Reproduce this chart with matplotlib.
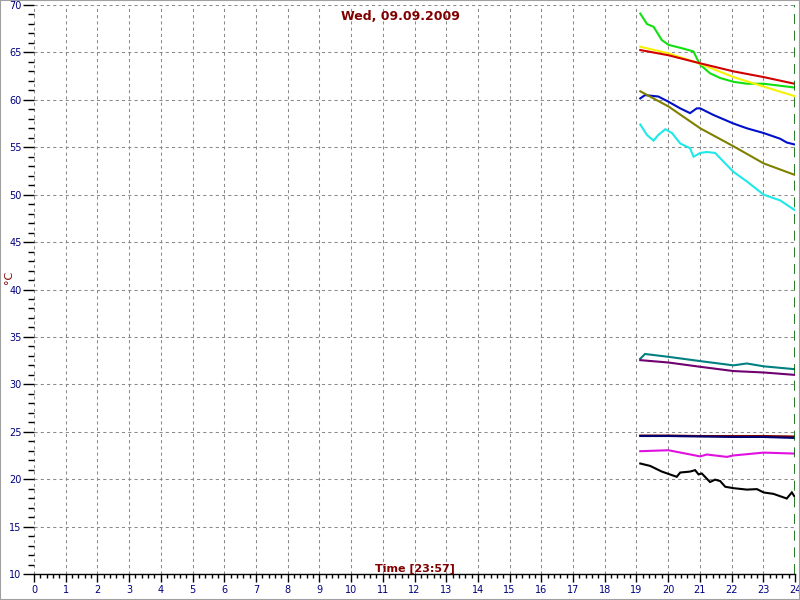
import matplotlib
matplotlib.use("Agg")
import matplotlib.pyplot as plt
from matplotlib.patches import Rectangle
from matplotlib.ticker import MultipleLocator

# hours of day and temperatures (°C)
green_t = [19.12, 19.33, 19.54, 19.80, 20.01, 20.48, 20.80, 20.90, 21.01, 21.32, 21.64, 22.06, 22.48, 23.01, 23.98]
green_v = [69.1, 68.0, 67.7, 66.3, 65.8, 65.4, 65.1, 64.4, 63.7, 62.8, 62.3, 61.9, 61.7, 61.7, 61.3]

yellow_t = [19.12, 20.01, 21.01, 22.06, 23.01, 23.98]
yellow_v = [65.6, 64.9, 63.8, 62.4, 61.4, 60.4]

red_t = [19.12, 20.01, 21.01, 22.06, 23.01, 23.98]
red_v = [65.25, 64.7, 63.85, 63.0, 62.4, 61.7]

blue_t = [19.12, 19.27, 19.69, 20.01, 20.38, 20.69, 20.90, 21.01, 21.43, 22.06, 22.48, 23.01, 23.53, 23.74, 23.98]
blue_v = [60.15, 60.5, 60.35, 59.8, 59.1, 58.6, 59.1, 59.1, 58.4, 57.5, 57.0, 56.5, 55.9, 55.5, 55.3]

olive_t = [19.12, 20.01, 21.01, 22.06, 23.01, 23.98]
olive_v = [60.9, 59.3, 57.0, 55.1, 53.3, 52.1]

cyan_t = [19.12, 19.33, 19.54, 19.69, 19.91, 20.12, 20.38, 20.69, 20.80, 21.01, 21.22, 21.48, 21.74, 22.06, 22.48, 23.01, 23.53, 23.98]
cyan_v = [57.4, 56.3, 55.7, 56.3, 56.9, 56.5, 55.4, 54.9, 54.0, 54.4, 54.5, 54.4, 53.5, 52.4, 51.4, 50.0, 49.4, 48.4]

teal_t = [19.12, 19.27, 20.01, 21.01, 22.06, 22.48, 23.01, 23.98]
teal_v = [32.7, 33.2, 32.9, 32.45, 32.0, 32.2, 31.9, 31.6]

purple_t = [19.12, 20.01, 21.01, 22.06, 23.01, 23.98]
purple_v = [32.55, 32.3, 31.85, 31.4, 31.25, 31.0]

maroon_t = [19.12, 20.01, 21.01, 22.06, 23.01, 23.98]
maroon_v = [24.6, 24.6, 24.55, 24.55, 24.55, 24.5]

navy_t = [19.12, 20.01, 21.01, 22.06, 23.01, 23.98]
navy_v = [24.55, 24.55, 24.5, 24.45, 24.45, 24.35]

magenta_t = [19.12, 20.01, 21.01, 21.22, 21.85, 22.06, 23.01, 23.98]
magenta_v = [22.95, 23.05, 22.4, 22.6, 22.35, 22.5, 22.8, 22.7]

black_t = [19.12, 19.43, 19.80, 20.27, 20.38, 20.69, 20.85, 20.96, 21.06, 21.32, 21.48, 21.64, 21.80, 22.06, 22.48, 22.80, 23.01, 23.32, 23.74, 23.90, 23.98]
black_v = [21.65, 21.4, 20.8, 20.25, 20.7, 20.8, 20.95, 20.5, 20.6, 19.7, 19.95, 19.8, 19.2, 19.05, 18.9, 18.95, 18.6, 18.45, 17.96, 18.6, 18.2]

series = [
    (green_t, green_v, "#10e010"),
    (yellow_t, yellow_v, "#f4f400"),
    (red_t, red_v, "#d00000"),
    (blue_t, blue_v, "#0010c8"),
    (olive_t, olive_v, "#808000"),
    (cyan_t, cyan_v, "#20e8e8"),
    (teal_t, teal_v, "#008080"),
    (purple_t, purple_v, "#700070"),
    (maroon_t, maroon_v, "#800000"),
    (navy_t, navy_v, "#000070"),
    (magenta_t, magenta_v, "#e010e0"),
    (black_t, black_v, "#000000"),
]

TICK_COLOR = "#000080"
LABEL_COLOR = "#800000"

fig = plt.figure(figsize=(8, 6), dpi=100)
ax = fig.add_axes([34 / 800, 1 - 574 / 600, (795 - 34) / 800, (574 - 5) / 600])

for t, v, c in series:
    ax.plot(t, v, color=c, lw=1.5, solid_joinstyle="miter")

# dashed marker at the right edge (current time)
ax.axvline(24, color="#006400", lw=1.2, ls=(0, (6, 4)))

ax.set_xlim(0, 24)
ax.set_ylim(10, 70)
ax.xaxis.set_major_locator(MultipleLocator(1))
ax.xaxis.set_minor_locator(MultipleLocator(0.2))
ax.yaxis.set_major_locator(MultipleLocator(5))
ax.yaxis.set_minor_locator(MultipleLocator(1))
ax.grid(True, which="major", color="#8a8a8a", ls=(0, (3, 3)), lw=0.75)

for side in ["top", "right", "left"]:
    ax.spines[side].set_visible(False)
ax.spines["bottom"].set_color("black")
ax.spines["bottom"].set_linewidth(1.0)

ax.tick_params(axis="x", which="major", length=6, width=1, color="black",
               labelsize=7, labelcolor=TICK_COLOR, pad=2)
ax.tick_params(axis="x", which="minor", length=3, width=1, color="black")
ax.tick_params(axis="y", which="major", length=8, width=1, color="black",
               labelsize=7, labelcolor=TICK_COLOR, pad=1)
ax.tick_params(axis="y", which="minor", length=4, width=1, color="black")

fig.text(0.5, 1 - 17 / 600, "Wed, 09.09.2009", ha="center", va="center",
         color=LABEL_COLOR, fontsize=9, fontweight="bold")
fig.text(415 / 800, 1 - 569 / 600, "Time [23:57]", ha="center", va="center",
         color=LABEL_COLOR, fontsize=8, fontweight="bold")
fig.text(9 / 800, 1 - 277 / 600, "°C", ha="center", va="center", rotation=90,
         color=LABEL_COLOR, fontsize=8)

fig.patches.append(Rectangle((0, 0), 1, 1, transform=fig.transFigure, fill=False,
                             edgecolor="#a0a0a0", lw=1.5))

fig.savefig("out.png", dpi=100)
